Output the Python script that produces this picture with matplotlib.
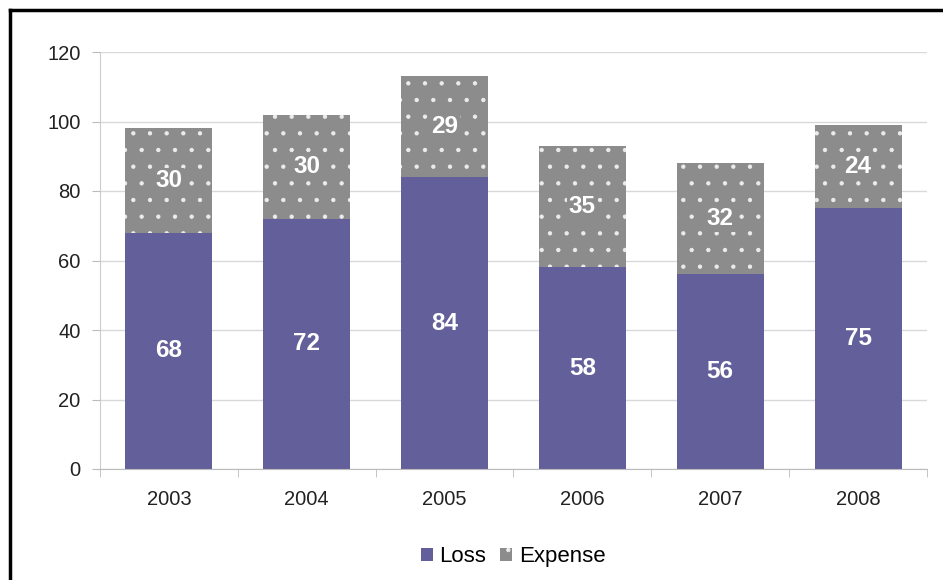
import matplotlib
matplotlib.use('Agg')
import matplotlib.pyplot as plt
from matplotlib.lines import Line2D

# datos
years = ['2003', '2004', '2005', '2006', '2007', '2008']
loss = [68, 72, 84, 58, 56, 75]
expense = [30, 30, 29, 35, 32, 24]

plt.rcParams['font.family'] = ['Liberation Sans', 'DejaVu Sans']
plt.rcParams['hatch.linewidth'] = 0.7

fig = plt.figure(figsize=(9.43, 5.8), dpi=100)
ax = fig.add_axes([100 / 943, 111 / 580, 827 / 943, 417 / 580])

x = range(len(years))
b1 = ax.bar(x, loss, width=0.63, color='#625f9a', label='Loss', zorder=2)
b2 = ax.bar(x, expense, bottom=loss, width=0.63, color='#8c8c8c',
            edgecolor='#ececec', linewidth=0, hatch='.', label='Expense',
            zorder=2)

# etiquetas de valores
for i in x:
    ax.text(i, loss[i] / 2, str(loss[i]), ha='center', va='center',
            color='white', fontsize=17.5, fontweight='bold', zorder=3)
    ax.text(i, loss[i] + expense[i] / 2, str(expense[i]), ha='center',
            va='center', color='white', fontsize=17.5, fontweight='bold',
            zorder=3, bbox=dict(facecolor='#8c8c8c', edgecolor='none',
                                pad=1))

ax.set_xlim(-0.5, len(years) - 0.5)
ax.set_ylim(0, 120)
ax.set_yticks(range(0, 121, 20))
ax.set_xticks(x)
ax.set_xticklabels(years)
ax.set_xticks([i - 0.5 for i in range(len(years) + 1)], minor=True)
ax.tick_params(axis='both', labelsize=14.5, colors='#222222')
ax.tick_params(axis='x', which='major', length=0, pad=15)
ax.tick_params(axis='x', which='minor', length=6, color='#bbbbbb')
ax.tick_params(axis='y', length=6, color='#bbbbbb', pad=8)
ax.grid(axis='y', color='#d9d9d9', linewidth=1, zorder=0)
for s in ['top', 'right']:
    ax.spines[s].set_visible(False)
ax.spines['left'].set_color('#cccccc')
ax.spines['bottom'].set_color('#bbbbbb')

leg = fig.legend(handles=[b1, b2], loc='center', bbox_to_anchor=(0.544, 0.04),
                 ncol=2, frameon=False, fontsize=16, handlelength=0.55,
                 handleheight=0.55, handletextpad=0.3, columnspacing=0.6)

# marco
fig.add_artist(Line2D([10 / 943, 1], [1 - 10 / 580, 1 - 10 / 580],
                      color='black', linewidth=2.5, transform=fig.transFigure))
fig.add_artist(Line2D([10 / 943, 10 / 943], [0, 1 - 10 / 580],
                      color='black', linewidth=2.5, transform=fig.transFigure))

fig.savefig('out.png', dpi=100)
